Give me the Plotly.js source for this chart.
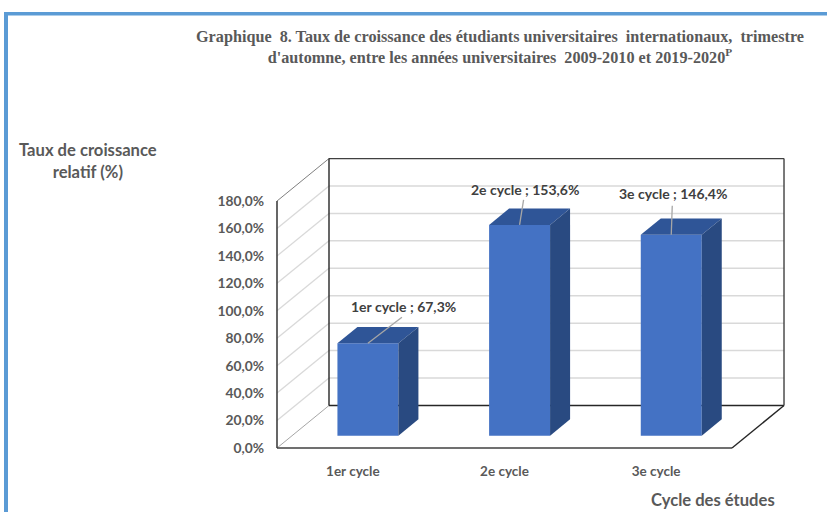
<!DOCTYPE html>
<html><head><meta charset="utf-8">
<script src="https://cdn.plot.ly/plotly-3.0.1.min.js"></script>
<style>html,body{margin:0;padding:0;background:#fff}#chart{width:827px;height:512px}</style></head>
<body><div id="chart"></div>
<script>
const categories = ['1er cycle', '2e cycle', '3e cycle'];
const values = [67.3, 153.6, 146.4];
const dataLabels = ['1er cycle ; 67,3%', '2e cycle ; 153,6%', '3e cycle ; 146,4%'];
const tickValues = [0, 20, 40, 60, 80, 100, 120, 140, 160, 180];
const tickLabels = ['0,0%', '20,0%', '40,0%', '60,0%', '80,0%', '100,0%', '120,0%', '140,0%', '160,0%', '180,0%'];

// Oblique projection
const W = 827, H = 512;
const m = {l: 270, r: 37, t: 150, b: 57};
const pxX = 151.67, pxY = 1.372;
const x0 = -0.5 - 7 / pxX, x1 = x0 + (W - m.l - m.r) / pxX;
const y0 = -7 / pxY, y1 = y0 + (H - m.t - m.b) / pxY;
const dx = 52 / pxX, dy = 42.5 / pxY;
const tFront = 0.29, tBack = 0.675, halfW = 0.201;
const xL = -0.5, xR = 2.5, yMax = 180;
const fx = (i, s, t) => i + s * halfW + t * dx;
const fy = (v, t) => v + t * dy;

const line = (xa, ya, xb, yb, color, width) => ({type: 'line', xref: 'x', yref: 'y', layer: 'below',
  x0: xa, y0: ya, x1: xb, y1: yb, line: {color: color, width: width}});
const grid = '#d9d9d9', dark = '#262626', soft = '#a6a6a6';
const shapes = [];
tickValues.filter(v => v > 0 && v < yMax).forEach(v => {
  shapes.push(line(xL, v, xL + dx, v + dy, grid, 1.3));
  shapes.push(line(xL + dx, v + dy, xR + dx, v + dy, grid, 1.5));
});
shapes.push(line(xL, 0, xL + dx, dy, soft, 1));
shapes.push(line(xL, yMax, xL + dx, yMax + dy, '#7f7f7f', 1));
shapes.push(line(xL + dx, yMax + dy, xR + dx, yMax + dy, '#404040', 1.2));
shapes.push(line(xL + dx, dy, xL + dx, yMax + dy, dark, 1.4));
shapes.push(line(xL + dx, dy, xR + dx, dy, dark, 1.4));
shapes.push(line(xR + dx, dy, xR + dx, yMax + dy, '#404040', 1.4));
shapes.push(line(xL, 0, xL, yMax, '#404040', 1.6));
shapes.push(line(xL, 0, xR, 0, '#404040', 1.6));
shapes.push(line(xR, 0, xR + dx, dy, dark, 1.4));

// Page frame
const paperX = p => (p - m.l) / (W - m.l - m.r);
const paperY = p => (H - m.b - p) / (H - m.t - m.b);
const frame = '#5b9bd5';
shapes.push({type: 'rect', xref: 'paper', yref: 'paper', x0: paperX(4), x1: paperX(827), y0: paperY(15.5), y1: paperY(12), fillcolor: frame, line: {width: 0}});
shapes.push({type: 'rect', xref: 'paper', yref: 'paper', x0: paperX(4), x1: paperX(8), y0: paperY(512), y1: paperY(12), fillcolor: frame, line: {width: 0}});

const traces = [];
// Front faces
traces.push({type: 'bar', x: categories.map((c, i) => fx(i, 0, tFront)), y: values,
  base: values.map(() => fy(0, tFront)), width: 2 * halfW,
  marker: {color: '#4472c4', line: {width: 0}}, hoverinfo: 'skip', showlegend: false});
// Top and side faces
values.forEach((v, i) => {
  traces.push({type: 'scatter', mode: 'lines', fill: 'toself', fillcolor: '#2f5597', line: {width: 0}, hoverinfo: 'skip', showlegend: false,
    x: [fx(i, -1, tFront), fx(i, 1, tFront), fx(i, 1, tBack), fx(i, -1, tBack), fx(i, -1, tFront)],
    y: [fy(v, tFront), fy(v, tFront), fy(v, tBack), fy(v, tBack), fy(v, tFront)]});
  traces.push({type: 'scatter', mode: 'lines', fill: 'toself', fillcolor: '#294a81', line: {width: 0}, hoverinfo: 'skip', showlegend: false,
    x: [fx(i, 1, tFront), fx(i, 1, tBack), fx(i, 1, tBack), fx(i, 1, tFront), fx(i, 1, tFront)],
    y: [fy(0, tFront), fy(0, tBack), fy(v, tBack), fy(v, tFront), fy(0, tFront)]});
});
// Leader lines and data labels (offsets in pixels from the bar's top front centre)
const leaderEnd = [[34, 26], [4, 25], [1, 29]];
const labelOff = [[36, 37], [5, 35], [2, 41]];
const annotations = [];
values.forEach((v, i) => {
  const xa = fx(i, 0, tFront), ya = fy(v, tFront);
  traces.push({type: 'scatter', mode: 'lines', line: {color: soft, width: 1.3}, hoverinfo: 'skip', showlegend: false,
    x: [xa, xa + leaderEnd[i][0] / pxX], y: [ya, ya + leaderEnd[i][1] / pxY]});
  annotations.push({xref: 'x', yref: 'y', x: xa + labelOff[i][0] / pxX, y: ya + labelOff[i][1] / pxY,
    text: dataLabels[i], showarrow: false, xanchor: 'center', yanchor: 'middle',
    font: {family: 'Lato, sans-serif', size: 14, color: '#404040', weight: 700}});
});
annotations.push({xref: 'paper', yref: 'paper', x: paperX(88), y: paperY(161), text: 'Taux de croissance<br>relatif (%)',
  showarrow: false, xanchor: 'center', yanchor: 'middle', font: {family: 'Lato, sans-serif', size: 16.6, color: '#595959', weight: 700}});
annotations.push({xref: 'paper', yref: 'paper', x: paperX(713), y: paperY(500), text: 'Cycle des études',
  showarrow: false, xanchor: 'center', yanchor: 'middle', font: {family: 'Lato, sans-serif', size: 16.6, color: '#595959', weight: 700}});

const layout = {
  width: W, height: H, margin: m, paper_bgcolor: '#fff', plot_bgcolor: '#fff', showlegend: false,
  title: {text: "Graphique  8. Taux de croissance des étudiants universitaires  internationaux,  trimestre<br>d'automne, entre les années universitaires  2009-2010 et 2019-2020<sup>P</sup>",
    x: 500 / W, xanchor: 'center', y: 1 - 42 / H, yanchor: 'top', yref: 'container',
    font: {family: '"Liberation Serif", serif', size: 16.2, color: '#595959', weight: 700}},
  xaxis: {range: [x0, x1], tickmode: 'array', tickvals: categories.map((c, i) => i), ticktext: categories,
    showgrid: false, zeroline: false, showline: false, ticks: '', fixedrange: true, automargin: false, ticklabelstandoff: 6,
    tickfont: {family: 'Lato, sans-serif', size: 13.5, color: '#595959', weight: 700}},
  yaxis: {range: [y0, y1], tickmode: 'array', tickvals: tickValues, ticktext: tickLabels,
    showgrid: false, zeroline: false, showline: false, ticks: '', fixedrange: true, automargin: false, ticklabelstandoff: 5,
    tickfont: {family: 'Lato, sans-serif', size: 13.8, color: '#595959', weight: 700}},
  shapes: shapes, annotations: annotations
};
Plotly.newPlot('chart', traces, layout, {displayModeBar: false, staticPlot: true});
</script></body></html>
